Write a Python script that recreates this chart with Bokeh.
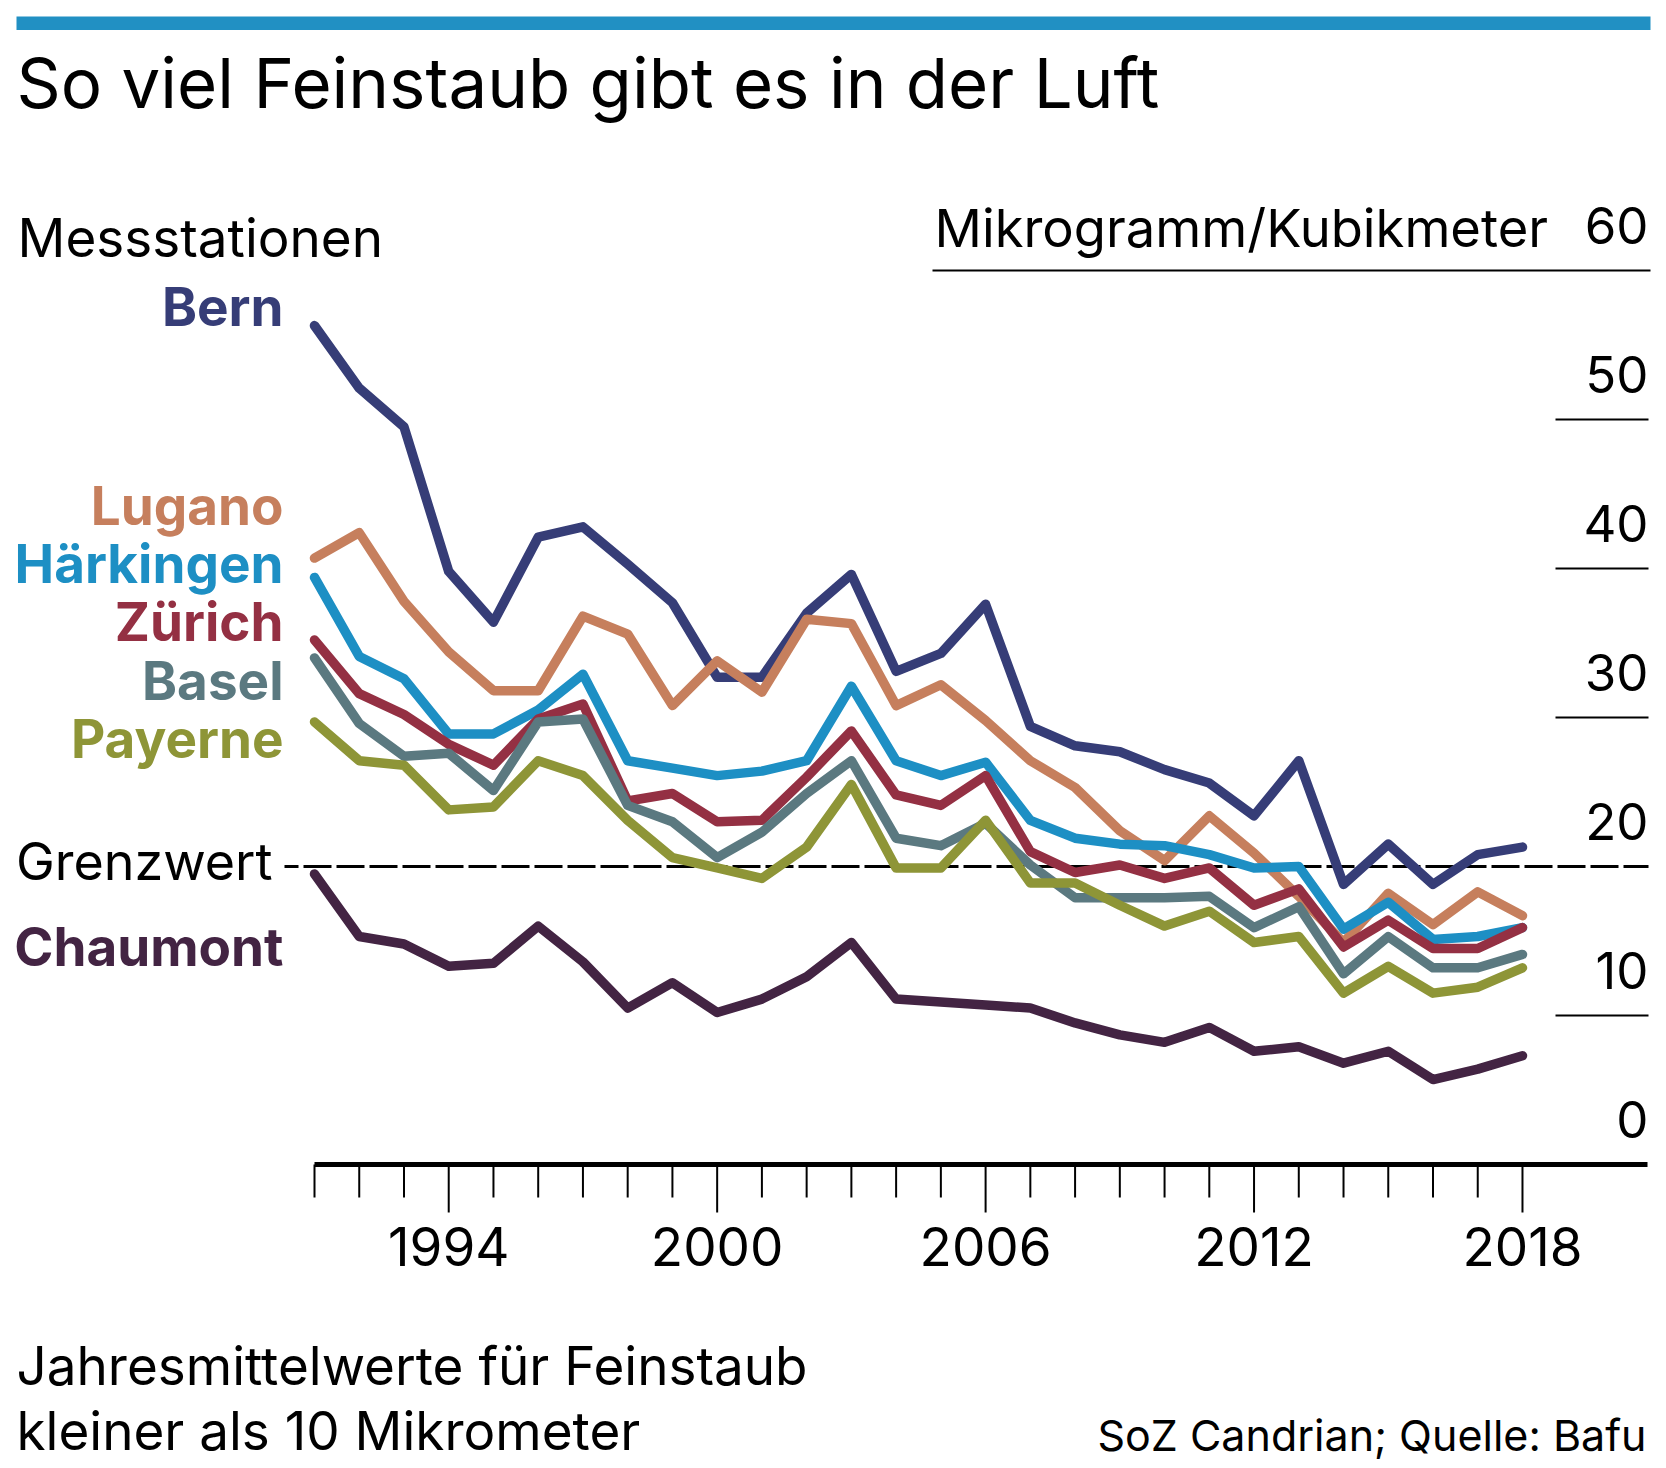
from bokeh.plotting import figure
from bokeh.models import Range1d
from bokeh.core.properties import value
from bokeh.embed import file_html
from bokeh.resources import INLINE

# ---------------- data ----------------
years = list(range(1991, 2019))

bern = [56.3, 52.1, 49.5, 39.8, 36.4, 42.1, 42.8, 40.3, 37.7, 32.7,
        32.7, 37.0, 39.6, 33.1, 34.3, 37.6, 29.4, 28.1, 27.7, 26.5,
        25.6, 23.4, 27.1, 18.8, 21.5, 18.8, 20.8, 21.3]
lugano = [40.7, 42.4, 37.8, 34.4, 31.8, 31.8, 36.8, 35.6, 30.8, 33.8,
          31.7, 36.6, 36.3, 30.8, 32.2, 29.8, 27.1, 25.3, 22.4, 20.4,
          23.4, 20.9, 18.0, 14.9, 18.2, 16.1, 18.3, 16.7]
haerkingen = [39.4, 34.1, 32.6, 28.9, 28.9, 30.5, 32.9, 27.1, 26.6, 26.1,
              26.4, 27.1, 32.1, 27.1, 26.1, 27.0, 23.1, 21.9, 21.5, 21.4,
              20.8, 19.9, 20.0, 15.8, 17.6, 15.1, 15.3, 15.9]
zuerich = [35.2, 31.6, 30.2, 28.2, 26.8, 29.9, 30.9, 24.4, 24.9, 23.0,
           23.1, 26.0, 29.1, 24.8, 24.1, 26.1, 21.0, 19.6, 20.1, 19.2,
           19.9, 17.4, 18.5, 14.6, 16.4, 14.5, 14.5, 15.9]
basel = [34.0, 29.6, 27.4, 27.6, 25.1, 29.7, 29.9, 24.1, 23.0, 20.6,
         22.3, 24.9, 27.1, 21.9, 21.4, 22.9, 20.1, 17.9, 17.9, 17.9,
         18.0, 15.9, 17.3, 12.8, 15.3, 13.2, 13.2, 14.1]
payerne = [29.7, 27.1, 26.8, 23.8, 24.0, 27.1, 26.1, 23.1, 20.6, 19.9,
           19.2, 21.3, 25.5, 19.9, 19.9, 23.1, 18.9, 18.9, 17.4, 16.0,
           17.0, 14.9, 15.3, 11.5, 13.3, 11.5, 11.9, 13.2]
chaumont = [19.5, 15.3, 14.8, 13.3, 13.5, 16.0, 13.6, 10.5, 12.2, 10.2,
            11.1, 12.6, 14.9, 11.1, 10.9, 10.7, 10.5, 9.5, 8.7, 8.2,
            9.2, 7.6, 7.9, 6.8, 7.6, 5.7, 6.4, 7.3]

stations = ["Bern", "Lugano", "Härkingen", "Zürich", "Basel", "Payerne", "Chaumont"]
series = [bern, lugano, haerkingen, zuerich, basel, payerne, chaumont]
colors = ["#363d77", "#c67f5d", "#1d8fc4", "#943043", "#5b7980", "#8e9537", "#432443"]

grenzwert = 20
y_ticks = [0, 10, 20, 30, 40, 50, 60]
x_label_years = [1994, 2000, 2006, 2012, 2018]

title = "So viel Feinstaub gibt es in der Luft"
subtitle_left = "Messstationen"
unit_label = "Mikrogramm/Kubikmeter"
limit_label = "Grenzwert"
footer1 = "Jahresmittelwerte für Feinstaub"
footer2 = "kleiner als 10 Mikrometer"
source = "SoZ Candrian; Quelle: Bafu"

# ---------------- layout (picture pixels) ----------------
W, H = 1666, 1468
PX_YEAR = 44.74
PX_UNIT = 14.9
X_FIRST = 314   # picture x of first year
Y_ZERO = 1164   # picture y of value 0

x_start = years[0] - X_FIRST / PX_YEAR
x_end = x_start + W / PX_YEAR
y_end = Y_ZERO / PX_UNIT
y_start = y_end - H / PX_UNIT


def dx(px):
    return x_start + px / PX_YEAR


def dy(py):
    return (Y_ZERO - py) / PX_UNIT


def ly(n):
    return n / PX_UNIT


FONT = value("Inter")
K = 0.363  # baseline lies this many ems below the vertical middle


p = figure(width=W, height=H, x_range=Range1d(x_start, x_end),
           y_range=Range1d(y_start, y_end), output_backend="svg",
           toolbar_location=None, min_border=0,
           x_axis_type=None, y_axis_type=None)
p.grid.visible = False
p.outline_line_color = None
p.background_fill_color = "white"
p.border_fill_color = "white"


def txt(xs, baselines, texts, size, align="left", color="black", bold=False):
    p.text(x=xs, y=[dy(b - K * size) for b in baselines], text=texts,
           text_font=FONT, text_font_size=f"{size}px",
           text_font_style="bold" if bold else "normal",
           text_baseline="middle", text_align=align, text_color=color)


# top blue bar
p.quad(left=[dx(16)], right=[dx(1650)], top=[dy(16)], bottom=[dy(29.5)],
       fill_color="#2190c3", line_color=None)

# title
txt([dx(16)], [108], [title], 69)

# subtitle left & unit label
txt([dx(17)], [257], [subtitle_left], 53)
txt([dx(934)], [247], [unit_label], 52.5)

# y gridlines (short) + 60 long rule
short = [v for v in y_ticks if v not in (0, grenzwert, 60)]
p.segment(x0=[dx(1555)] * len(short), x1=[dx(1648)] * len(short),
          y0=short, y1=short, line_color="black", line_width=2)
p.segment(x0=[dx(932)], x1=[dx(1650)], y0=[60], y1=[60],
          line_color="black", line_width=2)

# y tick labels
txt([dx(1648)] * len(y_ticks),
    [Y_ZERO - v * PX_UNIT - 26 for v in y_ticks],
    [str(v) for v in y_ticks], 51, align="right")

# Grenzwert dashed line
p.line(x=[dx(284), dx(1648)], y=[grenzwert, grenzwert], line_color="black",
       line_width=3, line_dash="28 5", line_dash_offset=14)
txt([dx(272)], [880], [limit_label], 52, align="right")

# data lines
for vals, col in zip(series, colors):
    p.line(x=years, y=vals, line_color=col, line_width=9.5,
           line_join="round", line_cap="round")

# station labels
label_base = [326, 525, 583, 641, 700, 758, 966]
txt([dx(283)] * len(stations), label_base, stations, 53, align="right",
    color=colors, bold=True)

# x axis
p.segment(x0=[dx(314)], x1=[dx(1647)], y0=[0], y1=[0], line_color="black",
          line_width=5)
tick_len = [ly(48) if y in x_label_years else ly(33) for y in years]
p.segment(x0=years, x1=years, y0=[0] * len(years),
          y1=[-t for t in tick_len], line_color="black", line_width=2)
p.text(x=x_label_years,
       y=[dy(1265 - K * 53)] * len(x_label_years),
       text=[str(y) for y in x_label_years], text_font=FONT,
       text_font_size="53px", text_baseline="middle", text_align="center",
       text_color="black")

# footer
txt([dx(16), dx(16)], [1385, 1450], [footer1, footer2], 53)
txt([dx(1646)], [1450], [source], 43, align="right")

open("out.html", "w").write(file_html(p, INLINE))
